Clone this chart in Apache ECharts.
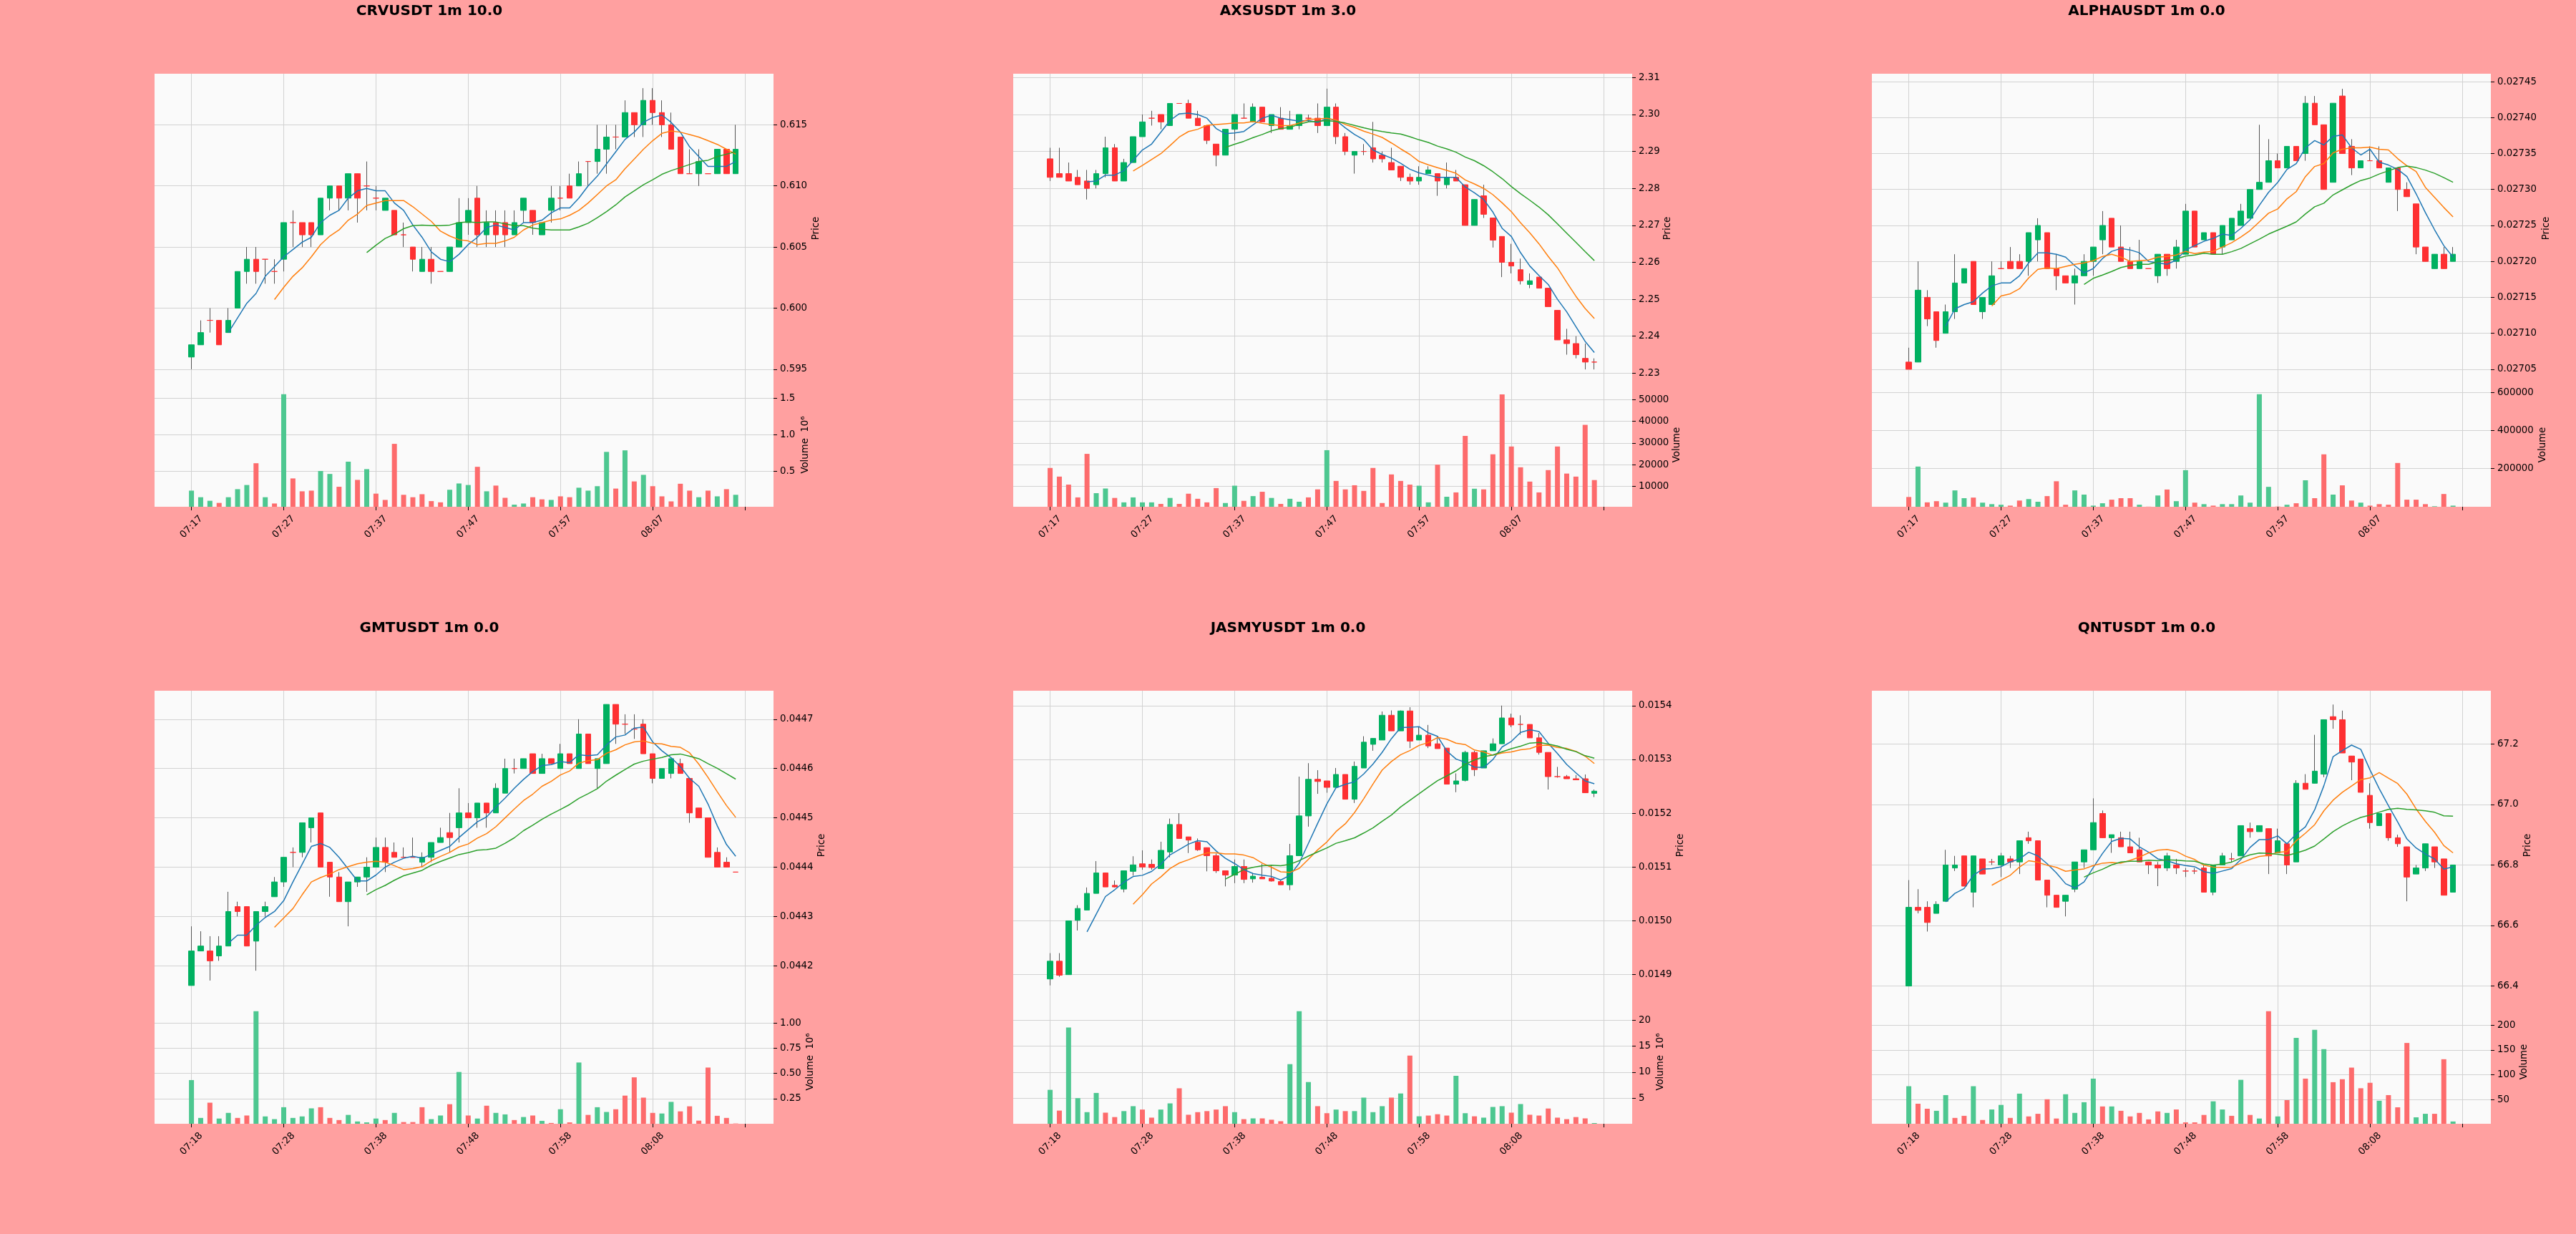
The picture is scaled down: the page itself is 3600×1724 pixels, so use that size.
<!DOCTYPE html>
<html><head><meta charset="utf-8">
<script src="https://cdn.jsdelivr.net/npm/echarts@6/dist/echarts.min.js"></script>
<style>html,body{margin:0;padding:0;background:#ffa0a0;}#c{width:3600px;height:1724px;}</style>
</head><body><div id="c"></div>
<script>
// ---------- DATA ----------
const titles = ['CRVUSDT 1m 10.0','AXSUSDT 1m 3.0','ALPHAUSDT 1m 0.0','GMTUSDT 1m 0.0','JASMYUSDT 1m 0.0','QNTUSDT 1m 0.0'];
const timesRow1 = ['07:17','07:27','07:37','07:47','07:57','08:07'];
const timesRow2 = ['07:18','07:28','07:38','07:48','07:58','08:08'];

// [open, high, low, close]
const crvOHLC = [
[.596,.597,.595,.597],[.597,.599,.597,.598],[.599,.600,.598,.599],[.599,.599,.597,.597],[.598,.600,.598,.599],
[.600,.603,.600,.603],[.603,.605,.602,.604],[.604,.605,.602,.603],[.604,.604,.602,.604],[.603,.604,.602,.603],
[.604,.607,.603,.607],[.607,.608,.605,.607],[.607,.607,.605,.606],[.607,.607,.605,.606],[.606,.609,.606,.609],
[.609,.610,.608,.610],[.610,.610,.608,.609],[.609,.611,.608,.611],[.611,.611,.607,.609],[.610,.612,.608,.610],
[.609,.610,.608,.609],[.608,.609,.608,.609],[.608,.608,.606,.606],[.606,.607,.605,.606],[.605,.605,.603,.604],
[.603,.605,.603,.604],[.604,.605,.602,.603],[.603,.603,.603,.603],[.603,.605,.603,.605],[.605,.609,.605,.607],
[.607,.609,.606,.608],[.609,.610,.605,.606],[.606,.608,.605,.607],[.607,.608,.605,.606],[.607,.608,.605,.606],
[.606,.608,.606,.607],[.608,.609,.607,.609],[.608,.608,.606,.607],[.606,.607,.606,.607],[.608,.610,.607,.609],
[.609,.610,.608,.609],[.610,.611,.609,.609],[.610,.612,.610,.611],[.612,.612,.610,.612],[.612,.615,.611,.613],
[.613,.615,.611,.614],[.614,.615,.613,.614],[.614,.617,.614,.616],[.616,.616,.614,.615],[.615,.618,.614,.617],
[.617,.618,.615,.616],[.616,.617,.614,.615],[.615,.616,.613,.613],[.614,.614,.611,.611],[.611,.613,.611,.611],
[.611,.613,.610,.612],[.611,.611,.611,.611],[.611,.613,.611,.613],[.613,.613,.611,.611],[.611,.615,.611,.613]];
const crvVolume = [0.233,0.143,0.094,0.065,0.143,0.253,0.310,0.608,0.143,0.057,1.551,0.400,0.224,0.233,0.502,0.461,0.286,0.629,0.380,0.527,
0.192,0.106,0.873,0.176,0.143,0.184,0.090,0.073,0.245,0.331,0.310,0.559,0.224,0.302,0.135,0.041,0.057,0.143,0.114,0.106,
0.155,0.143,0.273,0.233,0.294,0.763,0.261,0.784,0.359,0.449,0.294,0.155,0.086,0.327,0.233,0.143,0.233,0.155,0.253,0.176];

const axsOHLC = [
[2.288,2.291,2.282,2.283],[2.284,2.291,2.283,2.283],[2.284,2.287,2.282,2.282],[2.283,2.285,2.281,2.281],[2.282,2.285,2.277,2.280],
[2.281,2.285,2.280,2.284],[2.284,2.294,2.283,2.291],[2.291,2.292,2.282,2.282],[2.282,2.288,2.282,2.287],[2.287,2.294,2.287,2.294],
[2.294,2.300,2.294,2.298],[2.299,2.301,2.297,2.299],[2.300,2.300,2.296,2.298],[2.297,2.303,2.297,2.303],[2.303,2.303,2.303,2.303],
[2.303,2.304,2.299,2.299],[2.299,2.301,2.297,2.297],[2.297,2.297,2.292,2.293],[2.292,2.292,2.286,2.289],[2.289,2.296,2.289,2.296],
[2.296,2.300,2.293,2.300],[2.299,2.303,2.299,2.299],[2.298,2.303,2.298,2.302],[2.302,2.302,2.298,2.298],[2.297,2.300,2.295,2.300],
[2.299,2.302,2.296,2.296],[2.296,2.301,2.296,2.297],[2.297,2.300,2.296,2.300],[2.299,2.300,2.298,2.299],[2.299,2.303,2.295,2.297],
[2.297,2.307,2.297,2.302],[2.302,2.303,2.292,2.294],[2.294,2.295,2.289,2.290],[2.289,2.290,2.284,2.290],[2.290,2.292,2.289,2.290],
[2.291,2.298,2.287,2.288],[2.289,2.290,2.287,2.288],[2.287,2.291,2.285,2.285],[2.286,2.286,2.282,2.283],[2.283,2.284,2.281,2.282],
[2.282,2.286,2.281,2.283],[2.284,2.286,2.284,2.285],[2.284,2.284,2.278,2.282],[2.281,2.287,2.280,2.283],[2.283,2.285,2.282,2.282],
[2.281,2.281,2.270,2.270],[2.270,2.277,2.270,2.277],[2.278,2.281,2.272,2.273],[2.272,2.272,2.264,2.266],[2.267,2.267,2.256,2.260],
[2.260,2.265,2.257,2.259],[2.258,2.261,2.254,2.255],[2.254,2.257,2.253,2.255],[2.256,2.256,2.253,2.253],[2.253,2.253,2.248,2.248],
[2.247,2.247,2.239,2.239],[2.239,2.242,2.235,2.238],[2.238,2.240,2.234,2.235],[2.234,2.238,2.231,2.233],[2.233,2.234,2.231,2.233]];
const axsVolume = [18500,14500,10800,4900,25000,6850,9000,4650,2600,4900,2600,2600,1900,4650,1900,6600,4250,2600,9200,2300,
10300,3300,5500,7500,4650,1900,4250,2900,4900,8600,26700,12500,8600,10500,7900,18500,2300,15500,12500,10800,
10300,2600,20000,5200,7200,33300,8900,8600,24800,52500,28400,18800,12200,7200,17500,28400,15900,14500,38400,12900];

const alphaOHLC = [
[.02706,.02708,.02705,.02705],[.02706,.02720,.02706,.02716],[.02715,.02716,.02711,.02712],[.02713,.02713,.02708,.02709],[.02710,.02714,.02710,.02713],
[.02713,.02721,.02712,.02717],[.02717,.02719,.02717,.02719],[.02720,.02720,.02714,.02714],[.02713,.02715,.02712,.02715],[.02714,.02720,.02714,.02718],
[.02719,.02720,.02719,.02719],[.02720,.02722,.02719,.02719],[.02720,.02721,.02719,.02719],[.02720,.02724,.02718,.02724],[.02723,.02726,.02720,.02725],
[.02724,.02724,.02719,.02719],[.02719,.02721,.02716,.02718],[.02718,.02718,.02717,.02717],[.02717,.02719,.02714,.02718],[.02718,.02721,.02718,.02720],
[.02720,.02722,.02718,.02722],[.02723,.02727,.02721,.02725],[.02726,.02726,.02722,.02722],[.02722,.02725,.02720,.02720],[.02720,.02722,.02719,.02719],
[.02719,.02723,.02719,.02720],[.02719,.02719,.02719,.02719],[.02718,.02721,.02717,.02721],[.02721,.02721,.02718,.02719],[.02720,.02723,.02719,.02722],
[.02721,.02728,.02721,.02727],[.02727,.02727,.02722,.02722],[.02723,.02724,.02723,.02724],[.02724,.02724,.02721,.02721],[.02722,.02725,.02721,.02725],
[.02723,.02726,.02723,.02726],[.02725,.02728,.02725,.02727],[.02726,.02730,.02726,.02730],[.02730,.02739,.02730,.02731],[.02731,.02737,.02731,.02734],
[.02734,.02735,.02733,.02733],[.02733,.02736,.02733,.02736],[.02736,.02736,.02734,.02734],[.02735,.02743,.02734,.02742],[.02742,.02743,.02739,.02739],
[.02739,.02739,.02730,.02730],[.02731,.02742,.02731,.02742],[.02743,.02744,.02735,.02735],[.02736,.02737,.02732,.02733],[.02733,.02734,.02733,.02734],
[.02734,.02736,.02734,.02734],[.02734,.02736,.02733,.02733],[.02731,.02733,.02731,.02733],[.02733,.02733,.02727,.02730],[.02730,.02731,.02729,.02729],
[.02728,.02728,.02721,.02722],[.02722,.02722,.02720,.02720],[.02719,.02721,.02719,.02721],[.02721,.02722,.02719,.02719],[.02720,.02722,.02720,.02721]];
const alphaVolume = [51600,211000,23400,29700,21900,86000,45300,48400,21900,14100,10900,6250,32800,40600,26600,56250,134000,10900,86000,64000,
6250,18750,37500,45300,45300,10900,1000,59400,90600,29700,192000,21900,14100,6250,14100,14100,59400,21900,590000,104700,
1500,10900,18750,139000,45300,275000,64000,112500,32800,21900,6250,14100,10900,229700,37500,37500,14100,3000,67200,6250];

const gmtOHLC = [
[.04416,.04428,.04416,.04423],[.04423,.04427,.04423,.04424],[.04423,.04426,.04417,.04421],[.04422,.04426,.04421,.04424],[.04424,.04435,.04424,.04431],
[.04432,.04433,.04430,.04431],[.04432,.04432,.04424,.04424],[.04425,.04431,.04419,.04431],[.04431,.04433,.04430,.04432],[.04434,.04438,.04434,.04437],
[.04437,.04442,.04436,.04442],[.04443,.04444,.04440,.04443],[.04443,.04449,.04442,.04449],[.04448,.04450,.04445,.04450],[.04451,.04451,.04440,.04440],
[.04441,.04441,.04434,.04438],[.04438,.04439,.04433,.04433],[.04433,.04437,.04428,.04437],[.04437,.04438,.04436,.04438],[.04438,.04442,.04435,.04440],
[.04440,.04446,.04440,.04444],[.04444,.04446,.04439,.04441],[.04443,.04445,.04442,.04442],[.04442,.04444,.04442,.04442],[.04442,.04446,.04442,.04442],
[.04441,.04443,.04440,.04442],[.04442,.04445,.04441,.04445],[.04445,.04448,.04445,.04446],[.04447,.04451,.04443,.04446],[.04448,.04456,.04445,.04451],
[.04451,.04453,.04450,.04450],[.04450,.04453,.04448,.04453],[.04453,.04453,.04448,.04451],[.04451,.04457,.04451,.04456],[.04455,.04462,.04455,.04460],
[.04460,.04462,.04459,.04460],[.04460,.04462,.04460,.04462],[.04463,.04463,.04459,.04459],[.04459,.04463,.04459,.04462],[.04462,.04462,.04461,.04461],
[.04460,.04465,.04460,.04463],[.04463,.04463,.04461,.04461],[.04460,.04470,.04460,.04467],[.04467,.04467,.04461,.04461],[.04460,.04462,.04456,.04462],
[.04461,.04473,.04461,.04473],[.04473,.04473,.04465,.04469],[.04469,.04471,.04467,.04469],[.04468,.04471,.04466,.04468],[.04469,.04470,.04463,.04463],
[.04463,.04463,.04457,.04458],[.04458,.04460,.04458,.04460],[.04459,.04462,.04458,.04462],[.04461,.04462,.04459,.04459],[.04458,.04458,.04449,.04451],
[.04452,.04452,.04450,.04450],[.04450,.04450,.04442,.04442],[.04443,.04444,.04440,.04440],[.04441,.04442,.04440,.04440],[.04439,.04439,.04439,.04439]];
const gmtVolume = [0.434,0.059,0.210,0.053,0.109,0.059,0.083,1.116,0.074,0.047,0.165,0.059,0.074,0.154,0.165,0.059,0.038,0.089,0.024,0.015,
0.053,0.038,0.109,0.018,0.018,0.165,0.047,0.083,0.195,0.514,0.083,0.053,0.180,0.109,0.094,0.038,0.068,0.083,0.030,0.009,
0.145,0.015,0.608,0.089,0.165,0.118,0.145,0.280,0.461,0.260,0.109,0.103,0.218,0.124,0.174,0.032,0.558,0.080,0.059,0.004];

const jasmyOHLC = [
[.014892,.014940,.014880,.014925],[.014925,.014940,.014896,.014899],[.014900,.015000,.014900,.015000],[.015001,.015029,.014982,.015023],[.015020,.015062,.015020,.015051],
[.015051,.015111,.015051,.015089],[.015089,.015089,.015063,.015063],[.015066,.015075,.015062,.015063],[.015059,.015093,.015053,.015093],[.015092,.015120,.015084,.015104],
[.015106,.015131,.015095,.015100],[.015105,.015114,.015095,.015099],[.015097,.015147,.015097,.015131],[.015128,.015190,.015118,.015179],[.015179,.015200,.015153,.015153],
[.015156,.015156,.015126,.015150],[.015146,.015153,.015130,.015132],[.015136,.015136,.015092,.015121],[.015121,.015125,.015089,.015093],[.015093,.015093,.015064,.015085],
[.015085,.015114,.015070,.015101],[.015101,.015114,.015070,.015077],[.015078,.015089,.015071,.015083],[.015081,.015106,.015078,.015078],[.015079,.015103,.015073,.015074],
[.015073,.015075,.015067,.015067],[.015067,.015143,.015057,.015121],[.015121,.015268,.015121,.015195],[.015195,.015293,.015175,.015263],[.015263,.015280,.015236,.015259],
[.015260,.015260,.015238,.015248],[.015248,.015284,.015248,.015272],[.015272,.015272,.015226,.015226],[.015226,.015296,.015219,.015287],[.015284,.015343,.015284,.015332],
[.015328,.015339,.015316,.015339],[.015336,.015389,.015336,.015382],[.015382,.015391,.015353,.015353],[.015353,.015391,.015353,.015390],[.015390,.015397,.015321,.015334],
[.015336,.015360,.015336,.015345],[.015345,.015364,.015321,.015325],[.015329,.015343,.015320,.015320],[.015321,.015321,.015254,.015254],[.015254,.015274,.015239,.015260],
[.015261,.015316,.015259,.015313],[.015313,.015316,.015269,.015281],[.015284,.015316,.015284,.015316],[.015316,.015339,.015316,.015329],[.015329,.015400,.015329,.015377],
[.015377,.015385,.015360,.015364],[.015365,.015382,.015346,.015365],[.015365,.015365,.015340,.015340],[.015340,.015349,.015309,.015313],[.015313,.015313,.015244,.015268],
[.015268,.015286,.015266,.015268],[.015268,.015271,.015264,.015264],[.015264,.015271,.015262,.015262],[.015264,.015272,.015238,.015238],[.015237,.015244,.015230,.015241]];
const jasmyVolume = [6.6,2.6,18.6,5.0,2.3,6.0,2.2,1.35,2.5,3.45,2.8,1.24,2.8,3.99,6.9,1.8,2.3,2.5,2.8,3.45,
2.3,0.95,1.1,1.1,0.84,0.55,11.55,21.75,8.1,3.45,2.1,2.8,2.5,2.5,5.1,2.3,3.45,5.1,5.9,13.2,
1.5,1.64,1.9,1.64,9.3,2.1,1.5,1.24,3.3,3.45,2.2,3.86,1.8,1.64,3.0,1.24,0.95,1.35,1.1,0.2];

const qntOHLC = [
[66.40,66.75,66.40,66.66],[66.66,66.72,66.64,66.65],[66.66,66.68,66.58,66.61],[66.64,66.68,66.64,66.67],[66.68,66.85,66.68,66.80],
[66.79,66.83,66.78,66.80],[66.83,66.83,66.73,66.73],[66.71,66.83,66.66,66.83],[66.82,66.82,66.77,66.77],[66.81,66.82,66.80,66.81],
[66.80,66.84,66.76,66.83],[66.82,66.83,66.79,66.81],[66.81,66.88,66.77,66.88],[66.89,66.91,66.87,66.88],[66.88,66.88,66.75,66.75],
[66.75,66.75,66.66,66.70],[66.70,66.70,66.66,66.66],[66.68,66.70,66.63,66.70],[66.72,66.81,66.71,66.81],[66.81,66.85,66.79,66.85],
[66.85,67.02,66.85,66.94],[66.97,66.98,66.89,66.89],[66.89,66.90,66.84,66.90],[66.89,66.91,66.86,66.86],[66.86,66.91,66.84,66.84],
[66.85,66.89,66.81,66.81],[66.81,66.81,66.77,66.80],[66.80,66.81,66.73,66.79],[66.79,66.84,66.78,66.83],[66.80,66.82,66.77,66.79],
[66.78,66.79,66.76,66.78],[66.78,66.79,66.77,66.78],[66.79,66.80,66.71,66.71],[66.71,66.80,66.70,66.80],[66.80,66.84,66.80,66.83],
[66.82,66.84,66.81,66.82],[66.83,66.93,66.83,66.93],[66.92,66.94,66.89,66.91],[66.91,66.93,66.91,66.93],[66.92,66.92,66.77,66.83],
[66.84,66.92,66.84,66.88],[66.87,66.87,66.77,66.80],[66.81,67.08,66.81,67.07],[67.07,67.10,67.05,67.05],[67.07,67.23,67.07,67.11],
[67.10,67.28,67.09,67.28],[67.29,67.33,67.25,67.28],[67.28,67.31,67.17,67.17],[67.16,67.16,67.08,67.14],[67.15,67.15,67.04,67.04],
[67.03,67.07,66.92,66.94],[66.93,66.97,66.93,66.97],[66.97,66.97,66.88,66.89],[66.89,66.90,66.86,66.87],[66.86,66.86,66.68,66.76],
[66.77,66.80,66.77,66.79],[66.79,66.87,66.78,66.87],[66.86,66.86,66.79,66.81],[66.82,66.82,66.70,66.70],[66.71,66.80,66.71,66.80]];
const qntVolume = [76.9,41.6,31.5,27.3,59.0,13.0,17.2,76.9,8.8,30.0,39.2,13.0,61.9,16.0,21.3,50.6,11.8,60.7,23.1,44.6,
92.2,36.1,36.1,27.3,16.0,23.1,10.0,26.1,23.1,30.0,4.0,4.0,19.0,46.4,30.0,17.2,89.8,19.0,11.8,228.0,
16.0,48.8,174.3,92.2,190.4,151.6,85.0,91.0,114.4,72.8,83.8,47.6,59.0,34.4,164.1,14.2,21.3,21.3,131.3,5.8];

const crvPriceTicks = [0.595,0.600,0.605,0.610,0.615];
const axsPriceTicks = [2.23,2.24,2.25,2.26,2.27,2.28,2.29,2.30,2.31];
const alphaPriceTicks = [0.02705,0.02710,0.02715,0.02720,0.02725,0.02730,0.02735,0.02740,0.02745];
const gmtPriceTicks = [0.0442,0.0443,0.0444,0.0445,0.0446,0.0447];
const jasmyPriceTicks = [0.0149,0.0150,0.0151,0.0152,0.0153,0.0154];
const qntPriceTicks = [66.4,66.6,66.8,67.0,67.2];
const crvVolTicks = [0.5,1.0,1.5];
const axsVolTicks = [10000,20000,30000,40000,50000];
const alphaVolTicks = [200000,400000,600000];
const gmtVolTicks = [0.25,0.50,0.75,1.00];
const jasmyVolTicks = [5,10,15,20];
const qntVolTicks = [50,100,150,200];
const maWindows = [5,10,20];

// ---------- CONFIG ----------
const panels = [
 {title:titles[0], ohlc:crvOHLC, vol:crvVolume, times:timesRow1, pTicks:crvPriceTicks, pDec:3, pRange:[0.59388,0.61918], vTicks:crvVolTicks, vDec:1, vName:'Volume  10\u2076'},
 {title:titles[1], ohlc:axsOHLC, vol:axsVolume, times:timesRow1, pTicks:axsPriceTicks, pDec:2, pRange:[2.22735,2.31104], vTicks:axsVolTicks, vDec:0, vName:'Volume'},
 {title:titles[2], ohlc:alphaOHLC, vol:alphaVolume, times:timesRow1, pTicks:alphaPriceTicks, pDec:5, pRange:[0.027031,0.027461], vTicks:alphaVolTicks, vDec:0, vName:'Volume'},
 {title:titles[3], ohlc:gmtOHLC, vol:gmtVolume, times:timesRow2, pTicks:gmtPriceTicks, pDec:4, pRange:[0.0441307,0.0447578], vTicks:gmtVolTicks, vDec:2, vName:'Volume  10\u2076'},
 {title:titles[4], ohlc:jasmyOHLC, vol:jasmyVolume, times:timesRow2, pTicks:jasmyPriceTicks, pDec:4, pRange:[0.014853,0.0154276], vTicks:jasmyVolTicks, vDec:0, vName:'Volume  10\u2076'},
 {title:titles[5], ohlc:qntOHLC, vol:qntVolume, times:timesRow2, pTicks:qntPriceTicks, pDec:1, pRange:[66.354,67.3757], vTicks:qntVolTicks, vDec:0, vName:'Volume'}
];

const LEFTS = [216,1416,2616], TOPS = [103,965], W = 865, PH = 432, VH = 173;
const TITLE_X = [600,1800,3000], TITLE_Y = [16,878];
const PRICE_NAME_X = [1141,2331,3559,1149,2349,3533];
const VOL_NAME_X = [1126,2344,3554,1133,2321,3528];
const X_TICKS = [0,10,20,30,40,50,60], X_LABELS = [0,10,20,30,40,50];
const UP = '#00b060', DOWN = '#fe3032', WICK = '#555555', VUP = '#4dc790', VDOWN = '#fd6b6c';
const MA_COLORS = ['#1f77b4','#ff7f0e','#2ca02c'];
const GRID_COLOR = '#d2d2d2', FONT = 'DejaVu Sans', FS = 13.3;

function sma(closes, w) {
  const out = [];
  for (let k = w - 1; k < closes.length; k++) {
    let s = 0; for (let j = k - w + 1; j <= k; j++) s += closes[j];
    out.push([k, s / w]);
  }
  return out;
}
function xAxisCfg(gridIndex, bottom, times) {
  return {
    type: 'value', gridIndex, min: -4, max: 63.1, position: 'bottom',
    axisLine: {show: false, onZero: false},
    axisTick: {show: true, customValues: X_TICKS, length: bottom ? 5 : 0, lineStyle: {color: bottom ? '#000' : 'rgba(0,0,0,0)', width: 1}},
    axisLabel: {show: bottom, customValues: X_LABELS, formatter: v => times[Math.round(v / 10)] || '',
      rotate: 45, align: 'center', verticalAlign: 'middle', margin: 28, fontSize: FS, fontFamily: FONT, color: '#000'},
    splitLine: {show: true, lineStyle: {color: GRID_COLOR, width: 1}}
  };
}
function yAxisCfg(gridIndex, min, max, ticks, dec) {
  return {
    type: 'value', gridIndex, position: 'right', min, max, scale: true,
    axisLine: {show: false, onZero: false},
    axisTick: {show: true, customValues: ticks, length: 5, lineStyle: {color: '#000', width: 1}},
    axisLabel: {customValues: ticks, formatter: v => v.toFixed(dec), margin: 9, fontSize: FS, fontFamily: FONT, color: '#000'},
    splitLine: {show: true, lineStyle: {color: GRID_COLOR, width: 1}}
  };
}

const grids = [], xAxes = [], yAxes = [], series = [], gfx = [];
panels.forEach((p, i) => {
  const col = i % 3, row = Math.floor(i / 3);
  const left = LEFTS[col], top = TOPS[row];
  const gi = i * 2;
  grids.push({left, top, width: W, height: PH, show: true, backgroundColor: '#fafafa', borderWidth: 0, containLabel: false, outerBoundsMode: 'none'});
  grids.push({left, top: top + PH, width: W, height: VH, show: true, backgroundColor: '#fafafa', borderWidth: 0, containLabel: false, outerBoundsMode: 'none'});
  xAxes.push(xAxisCfg(gi, false, p.times));
  xAxes.push(xAxisCfg(gi + 1, true, p.times));
  yAxes.push(yAxisCfg(gi, p.pRange[0], p.pRange[1], p.pTicks, p.pDec));
  const vMin = 0.3 * Math.min(...p.vol), vMax = 1.1 * Math.max(...p.vol);
  yAxes.push(yAxisCfg(gi + 1, vMin, vMax, p.vTicks, p.vDec));

  const closes = p.ohlc.map(d => d[3]);
  // wicks (high-low lines)
  series.push({type: 'candlestick', xAxisIndex: gi, yAxisIndex: gi, silent: true, z: 2, barWidth: 1,
    data: p.ohlc.map((d, k) => [k, d[2], d[2], d[2], d[1]]),
    itemStyle: {color: WICK, color0: WICK, borderColor: WICK, borderColor0: WICK, borderColorDoji: WICK, borderWidth: 1}});
  // bodies
  series.push({type: 'candlestick', xAxisIndex: gi, yAxisIndex: gi, silent: true, z: 3, barWidth: 8,
    data: p.ohlc.map((d, k) => [k, d[0], d[3], Math.min(d[0], d[3]), Math.max(d[0], d[3])]),
    itemStyle: {color: UP, color0: DOWN, borderColor: UP, borderColor0: DOWN, borderColorDoji: DOWN, borderWidth: 1}});
  maWindows.forEach((w, m) => {
    series.push({type: 'line', xAxisIndex: gi, yAxisIndex: gi, silent: true, z: 4, showSymbol: false, symbol: 'none',
      data: sma(closes, w), lineStyle: {color: MA_COLORS[m], width: 1.5}});
  });
  series.push({type: 'bar', xAxisIndex: gi + 1, yAxisIndex: gi + 1, silent: true, barWidth: 7,
    data: p.vol.map((v, k) => {
      const up = k === 0 ? p.ohlc[0][0] < p.ohlc[0][3] : closes[k] > closes[k - 1];
      return {value: [k, v], itemStyle: {color: up ? VUP : VDOWN}};
    })});

  gfx.push({type: 'text', x: TITLE_X[col], y: TITLE_Y[row], silent: true,
    style: {text: p.title, font: 'bold 20px "DejaVu Sans"', fill: '#000', textAlign: 'center', textVerticalAlign: 'middle', align: 'center', verticalAlign: 'middle'}});
  gfx.push({type: 'text', x: PRICE_NAME_X[i], y: top + PH / 2, rotation: Math.PI / 2, silent: true,
    style: {text: 'Price', font: FS + 'px "DejaVu Sans"', fill: '#000', textAlign: 'center', textVerticalAlign: 'middle', align: 'center', verticalAlign: 'middle'}});
  gfx.push({type: 'text', x: VOL_NAME_X[i], y: top + PH + VH / 2, rotation: Math.PI / 2, silent: true,
    style: {text: p.vName, font: FS + 'px "DejaVu Sans"', fill: '#000', textAlign: 'center', textVerticalAlign: 'middle', align: 'center', verticalAlign: 'middle'}});
});

const chart = echarts.init(document.getElementById('c'), null, {renderer: 'canvas', width: 3600, height: 1724});
chart.setOption({
  backgroundColor: '#ffa0a0',
  animation: false,
  grid: grids, xAxis: xAxes, yAxis: yAxes, series,
  graphic: {elements: gfx}
});
</script></body></html>
